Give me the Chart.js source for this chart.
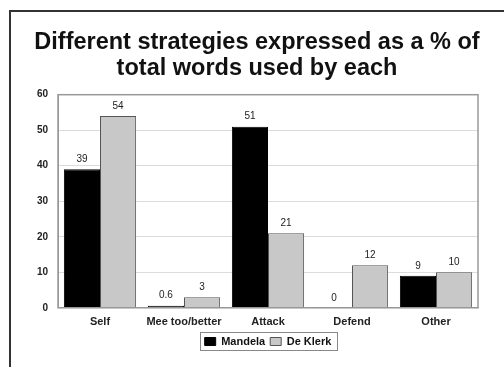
<!DOCTYPE html>
<html>
<head>
<meta charset="utf-8">
<script src="https://cdn.jsdelivr.net/npm/chart.js@4"></script>
<style>
  html, body { margin: 0; padding: 0; background: #fff; }
  #wrap { position: relative; width: 504px; height: 367px; }
  #frame { position: absolute; left: 9px; top: 10px; right: -4px; bottom: -4px;
           border-left: 2px solid #333; border-top: 2px solid #333; }
  canvas { position: absolute; left: 0; top: 0; }
</style>
</head>
<body>
<div id="wrap">
  <div id="frame"></div>
  <canvas id="chart" width="504" height="367"></canvas>
</div>
<script>
const categories = ["Self", "Mee too/better", "Attack", "Defend", "Other"];
const mandela = [39, 0.6, 51, 0, 9];
const deKlerk = [54, 3, 21, 12, 10];
const yTicks = [0, 10, 20, 30, 40, 50, 60];

const FONT = '"Liberation Sans", Arial, sans-serif';

// value labels above bars
const barLabels = {
    id: 'barLabels',
    afterDatasetsDraw(chart) {
        const ctx = chart.ctx;
        ctx.save();
        ctx.font = '10px ' + FONT;
        ctx.fillStyle = '#222';
        ctx.textAlign = 'center';
        ctx.textBaseline = 'bottom';
        chart.data.datasets.forEach((ds, i) => {
            chart.getDatasetMeta(i).data.forEach((bar, j) => {
                ctx.fillText(String(ds.data[j]), bar.x, bar.y - 5);
            });
        });
        ctx.restore();
    }
};

// grey border round plot area and box round legend items;
// legend is also centred under the plot rather than the canvas
const frames = {
    id: 'frames',
    afterLayout(chart) {
        const a = chart.chartArea;
        const shift = (a.left + a.right) / 2 - (chart.legend.left + chart.legend.right) / 2;
        chart.legend.left += shift;
        chart.legend.right += shift;
    },
    afterDraw(chart) {
        const ctx = chart.ctx;
        const a = chart.chartArea;
        ctx.save();
        ctx.strokeStyle = '#999';
        ctx.lineWidth = 1.5;
        ctx.strokeRect(a.left, a.top, a.right - a.left, a.bottom - a.top);
        const boxes = chart.legend.legendHitBoxes;
        if (boxes && boxes.length) {
            const l = Math.min(...boxes.map(b => b.left)) - 5;
            const r = Math.max(...boxes.map(b => b.left + b.width)) + 5;
            const t = Math.min(...boxes.map(b => b.top)) - 4;
            const bt = Math.max(...boxes.map(b => b.top + b.height)) + 3;
            ctx.strokeStyle = '#888';
            ctx.lineWidth = 1;
            ctx.strokeRect(Math.round(l) + 0.5, Math.round(t) + 0.5, Math.round(r - l), Math.round(bt - t));
        }
        ctx.restore();
    }
};

new Chart(document.getElementById('chart').getContext('2d'), {
    type: 'bar',
    data: {
        labels: categories,
        datasets: [{
            label: 'Mandela',
            data: mandela,
            backgroundColor: '#000',
            borderColor: '#000',
            borderWidth: 1
        }, {
            label: 'De Klerk',
            data: deKlerk,
            backgroundColor: '#c8c8c8',
            borderColor: '#555',
            borderWidth: 1
        }]
    },
    options: {
        responsive: false,
        animation: false,
        categoryPercentage: 0.86,
        barPercentage: 1.0,
        layout: { padding: { left: 10, right: 0, top: 0, bottom: 10 } },
        plugins: {
            title: {
                display: true,
                text: ['Different strategies expressed as a % of', 'total words used by each'],
                color: '#111',
                font: { family: FONT, size: 23.5, weight: 'bold', lineHeight: 1.1 },
                padding: { top: 30, bottom: 13 }
            },
            legend: {
                position: 'bottom',
                labels: {
                    boxWidth: 11,
                    boxHeight: 8,
                    padding: 5,
                    color: '#111',
                    font: { family: FONT, size: 11, weight: 'bold' }
                }
            },
            tooltip: { enabled: false }
        },
        scales: {
            x: {
                grid: { display: false },
                border: { color: '#999' },
                ticks: {
                    color: '#222',
                    font: { family: FONT, size: 11, weight: 'bold' },
                    padding: 0
                },
                afterFit(scale) { scale.height += 2; }
            },
            y: {
                min: 0,
                max: 60,
                afterBuildTicks(scale) { scale.ticks = yTicks.map(v => ({ value: v })); },
                grid: { color: '#dcdcdc', drawTicks: false },
                border: { color: '#999' },
                ticks: {
                    color: '#222',
                    font: { family: FONT, size: 10, weight: 'bold' },
                    padding: 10
                },
                afterFit(scale) { scale.width = 48; }
            },
            // empty right-hand axis, only keeps space at the right of the plot
            yRight: {
                position: 'right',
                grid: { display: false },
                border: { display: false },
                ticks: { display: false },
                afterFit(scale) { scale.width = 26; }
            }
        }
    },
    plugins: [barLabels, frames]
});
</script>
</body>
</html>
